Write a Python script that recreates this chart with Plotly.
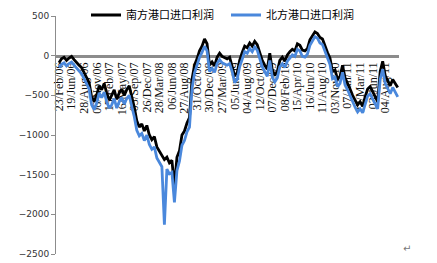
import plotly.graph_objects as go

south = [-90, -40, -20, -60, -30, -10, -50, -90, -120, -150,
         -210, -280, -340, -520, -580, -500, -380, -430, -350, -470,
         -560, -500, -430, -550, -470, -420, -500, -430, -380, -520,
         -650, -820, -900, -860, -950, -880, -1000, -1060, -1020, -1150,
         -1200, -1260, -1310, -1280, -1350, -1320, -1650, -1280, -1200, -1000,
         -950, -850, -780, -300, -120, -40, 60, 120, 210, 150,
         -120, -80, -130, -20, 30, -10, -30, -40, -20, -120,
         -250, -220, -60, 40, 120, 100, 160, 120, 180, 140,
         40, -60, -120, -170, 30, -180, -250, -200, -60, -20,
         -70, 10, 50, 80, 60, 150, 130, 70, 60, 90,
         200, 260, 300, 280, 230, 210, 120, 40, -30, -200,
         -180, -300, -260, -120, -280, -340, -420, -500, -560, -620,
         -580, -640, -520, -420, -390, -460, -530, -580, -200, -70,
         -250, -320, -380, -300, -360, -400]

north = [-150, -110, -90, -130, -100, -80, -120, -160, -200, -230,
         -290, -360, -420, -620, -680, -600, -470, -530, -460, -580,
         -660, -620, -540, -660, -580, -530, -610, -540, -500, -640,
         -770, -940, -1010, -980, -1070, -1000, -1120, -1180, -1150, -1290,
         -1340, -1400, -2130, -1430, -1490, -1470, -1850, -1450, -1330, -1130,
         -1070, -960, -900, -420, -220, -120, -20, 40, 120, 60,
         -200, -160, -210, -100, -50, -90, -110, -120, -100, -200,
         -340, -300, -140, -40, 50, 30, 90, 50, 110, 70,
         -40, -140, -200, -260, -60, -270, -330, -280, -140, -100,
         -150, -70, -30, 10, -10, 80, 60, -10, -20, 20,
         130, 190, 240, 220, 160, 140, 50, -40, -110, -290,
         -270, -390, -350, -210, -370, -430, -510, -590, -650, -710,
         -670, -720, -610, -510, -480, -550, -620, -670, -300, -170,
         -350, -420, -480, -400, -460, -520]

tick_labels = ["23/Feb/06", "19/Jun/06", "28/Aug/06", "06/Nov/06", "15/Feb/07",
               "16/May/07", "05/Sep/07", "26/Dec/07", "28/Mar/08", "06/Jun/08",
               "27/Aug/08", "31/Oct/08", "30/Dec/08", "27/Mar/09", "05/Jun/09",
               "04/Aug/09", "12/Oct/09", "07/Dec/09", "08/Feb/10", "15/Apr/10",
               "16/Jun/10", "11/Aug/10", "03/Nov/10", "07/Jan/11", "22/Mar/11",
               "03/Jun/11", "04/Aug/11"]
tick_step = 5

x = list(range(len(south)))
tickvals = [i * tick_step for i in range(len(tick_labels))]

fig = go.Figure()
fig.add_trace(go.Scatter(x=x, y=south, mode="lines", name="南方港口进口利润",
                         line=dict(color="#000000", width=2.8)))
fig.add_trace(go.Scatter(x=x, y=north, mode="lines", name="北方港口进口利润",
                         line=dict(color="#4a88dc", width=2.8)))

ymin, ymax = -2500, 500
fig.update_layout(
    width=437, height=263,
    margin=dict(l=56, r=38, t=16, b=9, autoexpand=False),
    paper_bgcolor="white", plot_bgcolor="white",
    showlegend=True,
    legend=dict(orientation="h", x=(86 - 56) / 343, xanchor="left",
                yref="container", y=1 - 15 / 263, yanchor="middle",
                entrywidth=95, entrywidthmode="pixels",
                font=dict(family="Noto Sans CJK SC", size=11, color="#000000"),
                bgcolor="rgba(0,0,0,0)", tracegroupgap=0),
    xaxis=dict(range=[-1.2, len(south) - 0.5], anchor="free",
               position=(0 - ymin) / (ymax - ymin), automargin=False,
               showline=True, linecolor="#8c8c8c", linewidth=3,
               showgrid=False, zeroline=False, ticks="",
               tickvals=tickvals, ticktext=tick_labels, tickangle=-90,
               tickfont=dict(family="Liberation Serif", size=12, color="#111111"),
               layer="below traces"),
    yaxis=dict(range=[ymin, ymax], automargin=False,
               showline=True, linecolor="#8c8c8c", linewidth=1,
               showgrid=False, zeroline=False, ticks="outside", ticklen=4,
               tickcolor="#8c8c8c", tickvals=[500, 0, -500, -1000, -1500, -2000, -2500],
               tickfont=dict(family="DejaVu Sans", size=9, color="#333333")),
)

fig.add_annotation(text="↵", xref="paper", yref="paper",
                   x=(413 - 56) / 343, y=(254 - 256) / 238,
                   showarrow=False, font=dict(family="DejaVu Sans", size=10, color="#777777"))

fig.write_html("out.html")
